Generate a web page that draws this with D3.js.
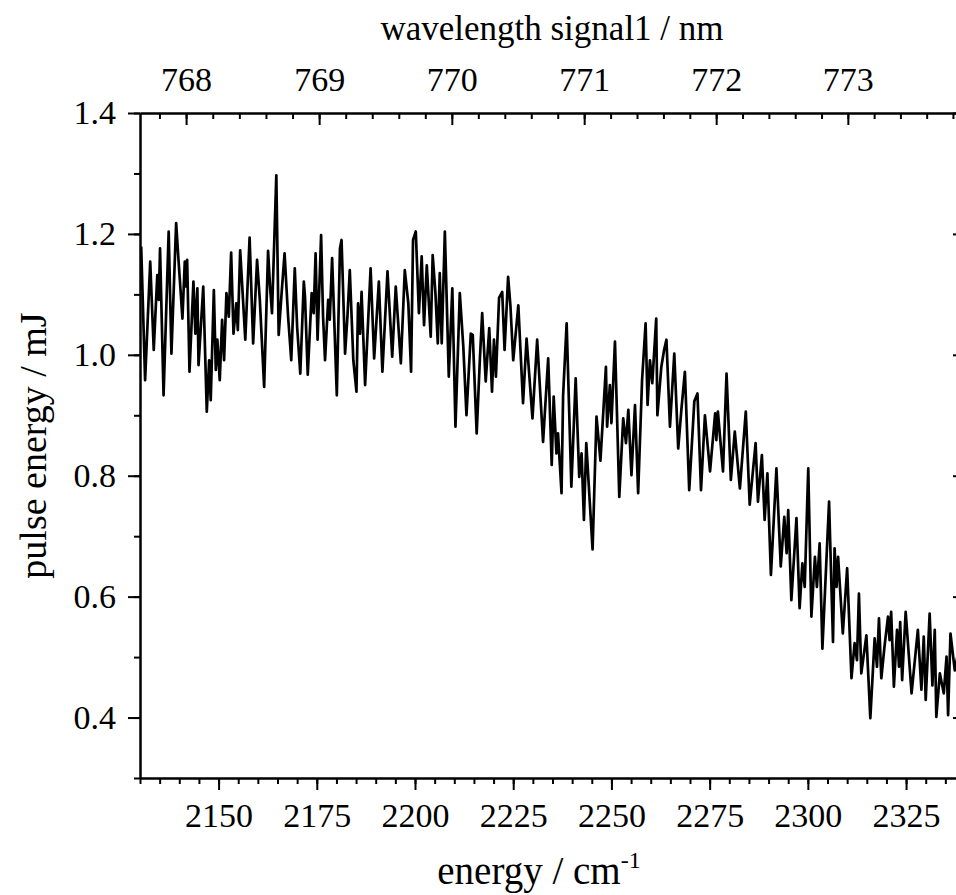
<!DOCTYPE html>
<meta charset="utf-8">
<title>Pulse energy</title>
<head>
  <script src="https://d3js.org/d3.v7.min.js"></script>
  <style>
    body { margin: 0; background: #fff; }
  </style>
</head>
<body>
  <div id="chart"></div>
</body>

<script>
    // values (energy in cm^-1, pulse energy in mJ)
    var energy = [
      2130.3,2131.3,2132.6,2133.5,2134.4,2134.8,2135.1,2136.0,2137.3,2138.0,
      2139.2,2139.8,2140.4,2140.8,2141.4,2141.7,2142.0,2142.6,2143.6,2144.1,
      2144.6,2144.9,2146.1,2147.0,2147.6,2148.0,2148.8,2149.3,2149.7,2150.3,
      2150.9,2151.4,2152.0,2152.6,2153.2,2153.8,2154.5,2154.9,2155.5,2156.8,
      2157.9,2158.8,2159.8,2160.5,2161.6,2162.6,2163.1,2163.6,2164.7,2165.3,
      2166.1,2166.8,2167.7,2168.5,2169.4,2170.0,2170.8,2171.7,
      2172.0,2172.7,2173.7,2174.2,2174.7,2175.2,2176.1,2176.6,2177.1,2177.9,
      2178.3,2178.9,2180.1,2180.9,2181.3,2182.2,2182.8,2183.4,2184.3,2185.1,
      2185.5,2186.0,2186.4,2187.3,2188.7,2189.6,2190.8,2191.7,2193.0,2194.2,
      2195.1,2196.4,2197.4,2198.3,2199.0,2199.5,2200.2,2201.0,2201.7,2202.3,
      2203.0,2204.0,2204.5,2205.2,2205.8,2206.3,2206.8,2207.6,2208.6,2209.5,
      2210.3,2211.4,2212.3,2213.1,2214.2,
      2214.7,2215.7,2216.5,2217.1,2218.0,2218.9,2219.6,2220.1,2220.6,2221.4,
      2222.2,2222.8,2223.7,2224.3,2225.0,2226.3,2227.5,2228.4,2229.9,2231.1,
      2232.6,2233.9,2234.8,2235.3,2236.0,2236.4,2237.3,2237.7,2238.6,2239.8,
      2240.9,2241.8,2242.4,2243.0,2243.6,2245.2,2246.2,2247.2,2248.6,2248.9,
      2249.6,2250.0,2250.9,2252.0,2253.0,2253.7,2254.3,2255.1,2256.0,2256.8,
      2257.8,2258.7,2259.2,2259.8,2260.4,2261.4,2261.7,2262.7,2263.4,2264.0,
      2264.9,2266.0,2267.0,2267.8,2268.7,2269.8,2271.1,2271.9,2272.8,2273.8,
      2275.1,2276.4,2276.7,2277.1,2278.4,2279.3,2280.4,2281.4,2282.7,2284.2,
      2285.2,2286.7,2287.3,2288.3,2289.0,2289.7,2290.6,2292.0,2293.1,2294.0,
      2294.6,2295.0,2295.8,2297.1,2297.9,
      2298.6,2299.2,2300.1,2300.9,2301.8,2302.3,2303.0,2303.7,2305.4,2306.4,
      2306.8,2307.3,2307.7,2308.9,2310.0,2311.1,2311.9,2312.5,2313.0,2313.6,
      2314.9,2315.9,2317.0,2317.6,2318.1,2318.7,2319.5,2320.4,2320.8,2321.2,
      2321.9,2322.7,2323.2,2323.5,2324.0,2324.9,2326.4,2328.0,2328.9,2329.5,
      2330.0,2331.0,2331.7,2332.3,2332.7,2333.6,2334.6,2335.3,2335.7,2336.3,
      2337.4,2338.6
    ];
    var pulseEnergy = [
      1.179,0.958,1.154,1.008,1.132,1.091,1.176,0.933,1.204,1.002,
      1.218,1.157,1.099,1.060,1.154,1.113,1.157,0.972,1.121,1.035,
      1.110,0.983,1.113,0.906,0.991,0.925,1.107,0.975,1.025,0.958,
      1.058,0.991,1.102,1.063,1.169,1.035,1.085,1.041,1.173,1.025,
      1.194,1.019,1.157,1.091,0.947,1.172,1.113,1.069,1.297,1.033,
      1.107,1.168,1.063,0.991,1.143,1.046,0.969,1.121,
      1.096,0.967,1.102,1.069,1.168,1.025,1.198,1.063,0.991,1.091,
      1.058,1.160,0.933,1.176,1.190,1.002,1.063,1.140,0.991,0.939,
      1.085,1.035,1.104,0.950,1.143,0.994,1.121,0.972,1.138,0.997,
      1.113,0.986,1.140,1.085,0.972,1.190,1.204,1.069,1.163,1.049,
      1.148,1.030,1.165,1.102,1.019,1.135,1.019,1.204,0.964,1.110,
      0.881,1.102,1.013,0.900,1.035,
      1.033,0.870,0.991,1.069,0.956,1.044,0.939,1.025,0.964,1.094,
      1.104,1.008,1.129,1.080,0.991,1.082,0.920,1.027,0.895,1.025,
      0.856,0.994,0.818,0.931,0.837,0.870,0.771,0.933,1.052,0.782,
      0.961,0.798,0.837,0.727,0.854,0.678,0.898,0.825,0.980,0.881,
      0.950,0.887,1.022,0.765,0.895,0.854,0.909,0.801,0.917,0.771,
      0.958,1.052,0.917,0.991,0.953,1.060,0.900,0.980,1.008,1.025,
      0.881,1.002,0.845,0.909,0.972,0.776,0.923,0.936,0.776,0.900,
      0.807,0.903,0.859,0.906,0.807,0.969,0.793,0.873,0.779,0.906,
      0.752,0.854,0.757,0.834,0.727,0.804,0.636,0.812,0.650,0.732,
      0.672,0.743,0.594,0.730,0.581,
      0.655,0.616,0.812,0.567,0.666,0.616,0.688,0.514,0.757,0.525,
      0.680,0.616,0.666,0.539,0.647,0.465,0.523,0.495,0.605,0.473,
      0.536,0.399,0.531,0.484,0.564,0.465,0.517,0.567,0.528,0.575,
      0.451,0.545,0.484,0.558,0.462,0.575,0.440,0.545,0.446,0.534,
      0.429,0.572,0.453,0.545,0.401,0.473,0.440,0.501,0.404,0.539,
      0.478,0.520
    ];

    // tick labels
    var energyTicks = [2150, 2175, 2200, 2225, 2250, 2275, 2300, 2325];
    var pulseTicks = [0.4, 0.6, 0.8, 1.0, 1.2, 1.4];
    var wavelengthTicks = [768, 769, 770, 771, 772, 773];

    // signal1 wavelength (nm) -> energy (cm^-1) on the bottom axis
    var wlOffset = 28183.4;
    function wlToEnergy(wl) { return wlOffset - 2e7 / wl; }

    var font = "'Liberation Serif', 'Times New Roman', serif";

    // set the dimensions and margins of the graph
    var margin = {top: 113, left: 140},
        width = 825,
        height = 665;

    var svg = d3.select("#chart")
      .append("svg")
        .attr("width", 956)
        .attr("height", 895)
      .append("g")
        .attr("transform", "translate(" + margin.left + "," + margin.top + ")");

    var x = d3.scaleLinear().domain([2130, 2340]).range([0, width]);
    var y = d3.scaleLinear().domain([0.3, 1.4]).range([height, 0]);

    // minor ticks
    var minorX = d3.range(2130, 2341, 5);
    var minorY = d3.range(3, 15).map(function(d) { return d / 10; });
    var minorWl = d3.range(7678, 7739, 2).map(function(d) { return d / 10; });

    function styleAxis(g) {
      g.attr("font-family", font).attr("font-size", 34);
      g.selectAll("path, line").attr("stroke", "#000").attr("stroke-width", 2);
      g.selectAll("text").attr("fill", "#000");
    }

    // bottom axis
    svg.append("g")
        .attr("transform", "translate(0," + height + ")")
        .call(d3.axisBottom(x).tickValues(minorX).tickSize(6).tickSizeOuter(0).tickFormat(""))
        .call(styleAxis);
    svg.append("g")
        .attr("transform", "translate(0," + height + ")")
        .call(d3.axisBottom(x).tickValues(energyTicks).tickSize(12).tickSizeOuter(0).tickPadding(13)
          .tickFormat(d3.format("d")))
        .call(styleAxis);

    // left axis
    svg.append("g")
        .call(d3.axisLeft(y).tickValues(minorY).tickSize(6).tickSizeOuter(0).tickFormat(""))
        .call(styleAxis);
    svg.append("g")
        .call(d3.axisLeft(y).tickValues(pulseTicks).tickSize(12).tickSizeOuter(0).tickPadding(12)
          .tickFormat(d3.format(".1f")))
        .call(styleAxis);

    // top axis: wavelength, ticks point inward
    svg.append("g")
        .call(d3.axisTop(x).tickValues(minorWl.map(wlToEnergy)).tickSizeInner(-6).tickSizeOuter(0).tickFormat(""))
        .call(styleAxis);
    svg.append("g")
        .call(d3.axisTop(x).tickValues(wavelengthTicks.map(wlToEnergy)).tickSizeInner(-12).tickSizeOuter(0)
          .tickPadding(22)
          .tickFormat(function(d, i) { return wavelengthTicks[i]; }))
        .call(styleAxis);

    // right axis, ticks inward, no labels
    svg.append("g")
        .attr("transform", "translate(" + width + ",0)")
        .call(d3.axisRight(y).tickValues(minorY).tickSizeInner(-6).tickSizeOuter(0).tickFormat(""))
        .call(styleAxis);
    svg.append("g")
        .attr("transform", "translate(" + width + ",0)")
        .call(d3.axisRight(y).tickValues(pulseTicks).tickSizeInner(-12).tickSizeOuter(0).tickFormat(""))
        .call(styleAxis);

    // the trace
    svg.append("clipPath").attr("id", "plot-clip")
      .append("rect").attr("width", width).attr("height", height);

    var points = energy.map(function(e, i) { return [e, pulseEnergy[i]]; });
    svg.append("path")
        .datum(points)
        .attr("clip-path", "url(#plot-clip)")
        .attr("fill", "none")
        .attr("stroke", "#000")
        .attr("stroke-width", 2.7)
        .attr("stroke-linejoin", "round")
        .attr("d", d3.line()
          .x(function(d) { return x(d[0]); })
          .y(function(d) { return y(d[1]); }));

    // axis titles
    svg.append("text")
        .attr("x", 412).attr("y", -73)
        .attr("text-anchor", "middle")
        .attr("font-family", font).attr("font-size", 35)
        .text("wavelength signal1 / nm");

    svg.append("text")
        .attr("transform", "translate(-94," + (height / 2) + ") rotate(-90)")
        .attr("text-anchor", "middle")
        .attr("font-family", font).attr("font-size", 38)
        .text("pulse energy / mJ");

    var xTitle = svg.append("text")
        .attr("x", 399).attr("y", 771)
        .attr("text-anchor", "middle")
        .attr("font-family", font).attr("font-size", 39);
    xTitle.append("tspan").text("energy / cm");
    xTitle.append("tspan").attr("font-size", 24).attr("dy", -16).text("-1");
</script>
